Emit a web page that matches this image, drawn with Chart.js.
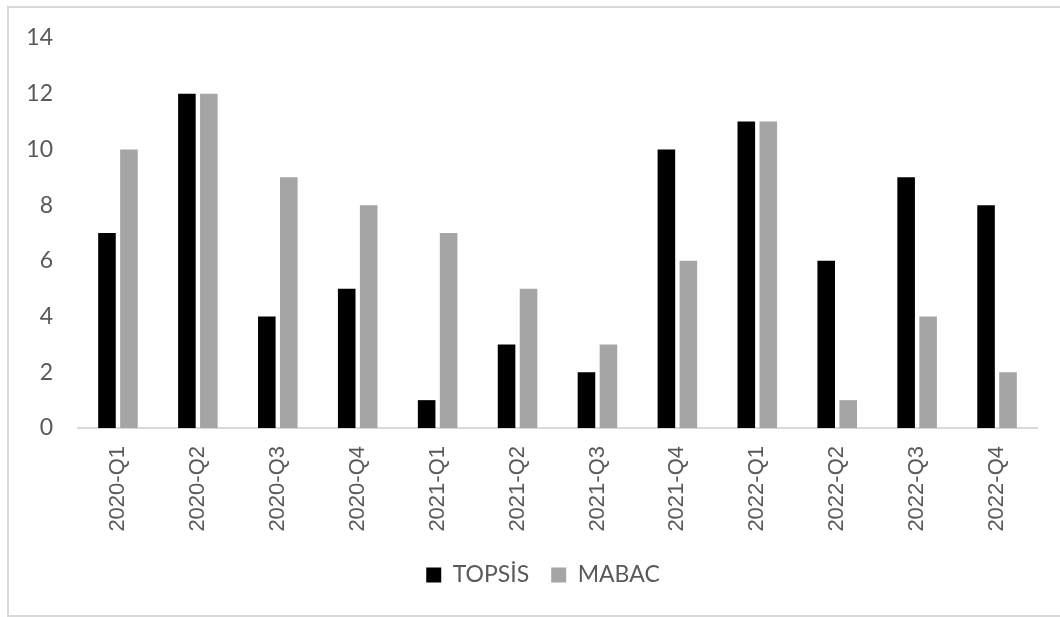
<!DOCTYPE html>
<html>
<head>
<meta charset="utf-8">
<script src="https://cdn.jsdelivr.net/npm/chart.js@4/dist/chart.umd.min.js"></script>
<style>
  html, body { margin: 0; padding: 0; background: #ffffff; overflow: hidden; }
  #frame {
    position: absolute; left: 7px; top: 6px;
    width: 1068px; height: 607px;
    border: 2px solid #d9d9d9;
    background: #ffffff;
  }
  #chart { display: block; }
</style>
</head>
<body>
<div id="frame"><canvas id="chart" width="1068" height="607"></canvas></div>
<script>
// Quarterly rankings produced by the two methods
const quarters = ['2020-Q1','2020-Q2','2020-Q3','2020-Q4','2021-Q1','2021-Q2','2021-Q3','2021-Q4','2022-Q1','2022-Q2','2022-Q3','2022-Q4'];
const topsis = [7, 12, 4, 5, 1, 3, 2, 10, 11, 6, 9, 8];
const mabac  = [10, 12, 9, 8, 7, 5, 3, 6, 11, 1, 4, 2];
const yTicks = [0, 2, 4, 6, 8, 10, 12, 14];

const textGray = '#595959';

new Chart(document.getElementById('chart'), {
  type: 'bar',
  data: {
    labels: quarters,
    datasets: [
      { label: 'TOPSİS', data: topsis, backgroundColor: '#000000', categoryPercentage: 0.55, barPercentage: 0.8 },
      { label: 'MABAC',  data: mabac,  backgroundColor: '#a5a5a5', categoryPercentage: 0.55, barPercentage: 0.8 }
    ]
  },
  options: {
    responsive: false,
    animation: false,
    layout: { padding: { top: 30, right: 0, bottom: 18.5, left: 0 } },
    plugins: {
      tooltip: { enabled: false },
      legend: {
        position: 'bottom',
        labels: {
          color: textGray,
          font: { family: 'Lato', size: 23 },
          boxWidth: 15,
          boxHeight: 15,
          padding: 22
        }
      }
    },
    scales: {
      x: {
        grid: { display: false, drawTicks: false },
        border: { display: true, color: '#d9d9d9', width: 2 },
        ticks: {
          color: textGray,
          font: { family: 'Liberation Sans', size: 22 },
          minRotation: 90, maxRotation: 90,
          padding: 18
        },
        afterFit(scale) { scale.height = 113.5; }
      },
      y: {
        min: 0, max: 14,
        afterBuildTicks(scale) { scale.ticks = yTicks.map(v => ({ value: v })); },
        grid: { display: false, drawTicks: false },
        border: { display: false },
        ticks: {
          color: textGray,
          font: { family: 'Lato', size: 23 },
          padding: 25
        },
        afterFit(scale) {
          scale.width = 69;
          scale.paddingTop = 0;
          scale.paddingBottom = 0;
        }
      },
      // empty right-hand margin beside the plot
      yRight: {
        position: 'right',
        min: 0, max: 14,
        grid: { display: false, drawTicks: false },
        border: { display: false },
        ticks: { display: false },
        afterFit(scale) {
          scale.width = 40;
          scale.paddingTop = 0;
          scale.paddingBottom = 0;
        }
      }
    }
  }
});
</script>
</body>
</html>
